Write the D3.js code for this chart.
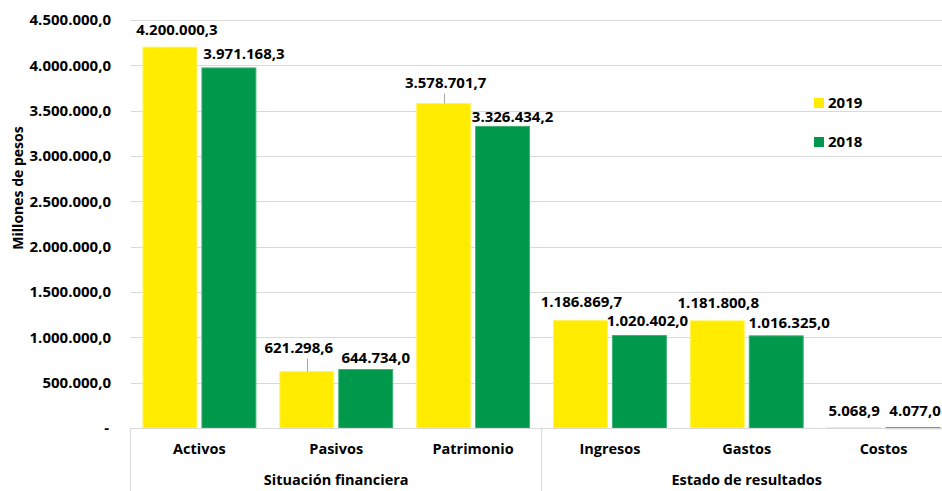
<!DOCTYPE html>
<html><head><meta charset="utf-8">
<script src="https://cdn.jsdelivr.net/npm/d3@7"></script>
<style>
body{margin:0;background:#fff;}
text{font-family:"Open Sans","Noto Sans",sans-serif;font-weight:bold;fill:#000;}
</style></head>
<body><svg id="c" width="942" height="491"></svg>
<script>
const categories = ["Activos","Pasivos","Patrimonio","Ingresos","Gastos","Costos"];
const groups = [{name:"Situación financiera", size:3},{name:"Estado de resultados", size:3}];
const series = ["2019","2018"];
const values2019 = [4200000.3, 621298.6, 3578701.7, 1186869.7, 1181800.8, 5068.9];
const values2018 = [3971168.3, 644734.0, 3326434.2, 1020402.0, 1016325.0, 4077.0];
const yTicks = [0,500000,1000000,1500000,2000000,2500000,3000000,3500000,4000000,4500000];
const colors = {"2019":"#FFEC00","2018":"#00984A"};
const strokes = {"2019":"#FFF45A","2018":"#3FAF74"};

const svg = d3.select("#c");
const pLeft=131, pRight=952, pTop=20, pBottom=428;
const x = d3.scaleBand().domain(categories).range([pLeft,pRight]).paddingInner(0).paddingOuter(0);
const xs = d3.scaleBand().domain(series).range([0,x.bandwidth()]).paddingInner(0.085).paddingOuter(0.203);
const y = d3.scaleLinear().domain([0,4500000]).range([pBottom,pTop]);

const fmt = v => {
  const s = v.toFixed(1).split(".");
  return s[0].replace(/\B(?=(\d{3})+(?!\d))/g,".")+","+s[1];
};

// gridlines
svg.append("g").selectAll("line").data(yTicks.slice(1)).join("line")
  .attr("x1",pLeft).attr("x2",942).attr("y1",d=>Math.round(y(d))+0.5).attr("y2",d=>Math.round(y(d))+0.5)
  .attr("stroke","#D9D9D9").attr("stroke-width",1);

// y axis labels
const yAxis = d3.axisLeft(y).tickValues(yTicks).tickSize(0).tickPadding(20)
  .tickFormat(d=> d===0 ? "-" : fmt(d));
const ya = svg.append("g").attr("transform",`translate(${pLeft},0)`).call(yAxis);
ya.select(".domain").remove();
ya.selectAll("text").style("font-size","15px").style("font-family",null).attr("fill","#000");
ya.selectAll(".tick").filter(d=>d===0).select("text").attr("dx",-2);

svg.append("text").attr("transform",`translate(23,188) rotate(-90)`)
  .attr("text-anchor","middle").style("font-size","14px").text("Millones de pesos");

// bars
const data = categories.map((c,i)=>({c, v:{"2019":values2019[i],"2018":values2018[i]}}));
const bars = [];
data.forEach(d=>series.forEach(s=>bars.push({c:d.c,s,v:d.v[s]})));
svg.append("g").selectAll("rect").data(bars).join("rect")
  .attr("x",d=>x(d.c)+xs(d.s)).attr("width",xs.bandwidth())
  .attr("y",d=>y(d.v)).attr("height",d=>Math.max(1,pBottom-y(d.v)))
  .attr("fill",d=>colors[d.s]).attr("stroke",d=>strokes[d.s]).attr("stroke-width",1);

// x axis line and separators
svg.append("line").attr("x1",pLeft).attr("x2",942).attr("y1",pBottom+0.5).attr("y2",pBottom+0.5).attr("stroke","#D9D9D9");
let acc=0;
const seps=[0];
groups.forEach(g=>{acc+=g.size; seps.push(acc);});
seps.forEach(k=>{
  const xx = k<categories.length ? x(categories[k]) : pRight;
  if (xx<942) svg.append("line").attr("x1",Math.round(xx)-0.5).attr("x2",Math.round(xx)-0.5)
    .attr("y1",pBottom).attr("y2",491).attr("stroke","#D9D9D9");
});

// category labels
svg.append("g").selectAll("text").data(categories).join("text")
  .attr("x",d=>x(d)+x.bandwidth()/2).attr("y",454).attr("text-anchor","middle")
  .style("font-size","14.5px").text(d=>d);
// group labels
acc=0;
groups.forEach(g=>{
  const a = x(categories[acc]), b = x(categories[acc+g.size-1])+x.bandwidth();
  svg.append("text").attr("x",(a+b)/2).attr("y",485).attr("text-anchor","middle")
    .style("font-size","14.5px").text(g.name);
  acc+=g.size;
});

// data labels (Excel-like manual placement: dx from bar centre, dy baseline above bar top, leader line)
const labelOffsets = {
  "Activos|2019":[7,-12.5,false], "Activos|2018":[15,-9,false],
  "Pasivos|2019":[-8,-19,true], "Pasivos|2018":[10,-7,false],
  "Patrimonio|2019":[2,-16,true], "Patrimonio|2018":[10,-4.5,false],
  "Ingresos|2019":[1,-13,false], "Ingresos|2018":[8,-9,false],
  "Gastos|2019":[1,-13,false], "Gastos|2018":[13,-8,false],
  "Costos|2019":[0,-12,false], "Costos|2018":[2,-12,false]
};
bars.forEach(d=>{
  const o = labelOffsets[d.c+"|"+d.s];
  const cx = x(d.c)+xs(d.s)+xs.bandwidth()/2;
  const ty = y(d.v);
  if (o[2]) {
    svg.append("line").attr("x1",Math.round(cx)+0.5).attr("x2",Math.round(cx)+0.5).attr("y1",ty).attr("y2",ty+o[1]+6)
      .attr("stroke","#A6A6A6");
  }
  svg.append("text").attr("x",cx+o[0]).attr("y",ty+o[1]).attr("text-anchor","middle")
    .style("font-size","15px").text(fmt(d.v));
});

// legend
series.forEach((s,i)=>{
  const ly = 98 + i*39;
  svg.append("rect").attr("x",814).attr("y",ly).attr("width",10).attr("height",10).attr("fill",colors[s]);
  svg.append("text").attr("x",828).attr("y",ly+10).style("font-size","15px").text(s);
});
</script></body></html>
